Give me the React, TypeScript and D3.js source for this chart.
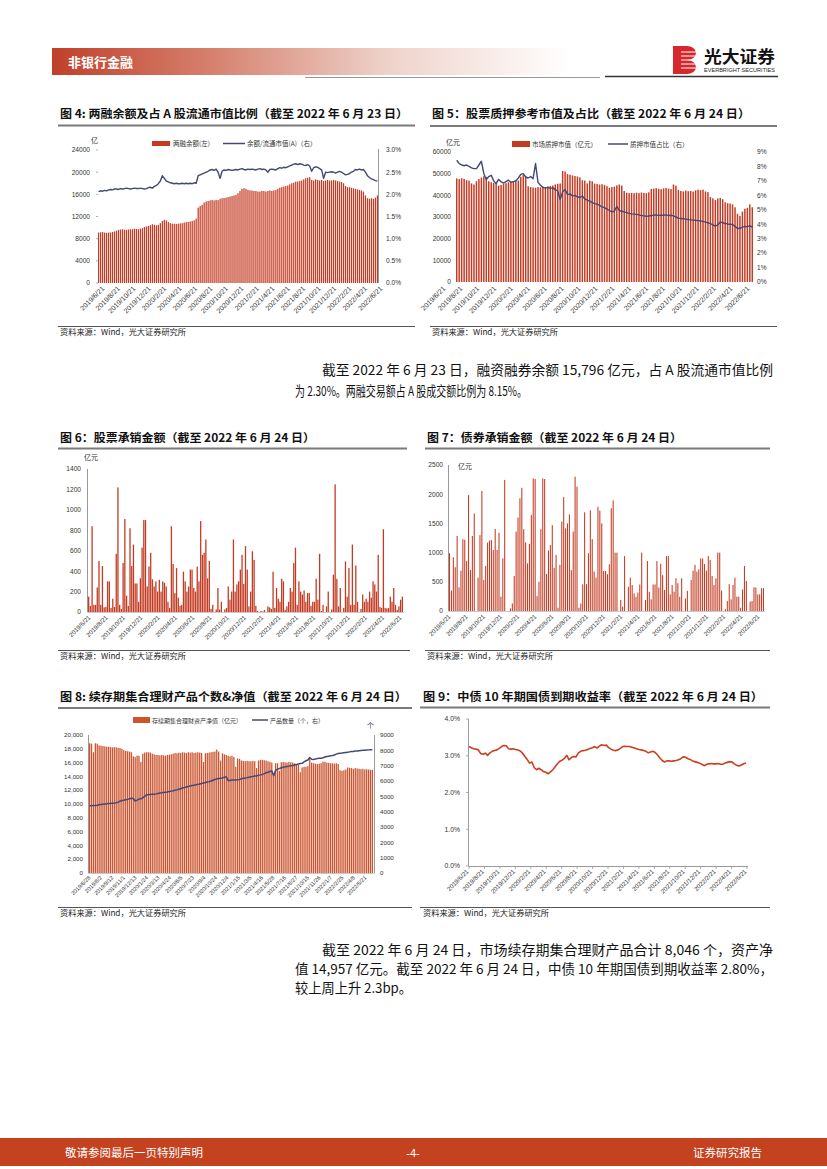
import React from 'react';
import * as d3 from 'd3';

const CJK = '"Noto Sans CJK SC", "Noto Sans", sans-serif';
const NUM = '"Liberation Sans", Arial, "Noto Sans CJK SC", sans-serif';
const RED = '#c33b22';
const RED8 = '#cb5530';
const NAVY = '#444873';
const LINE9 = '#c8401f';

// ---------- shared tick labels ----------
const monthLabels = ['2019/6/21', '2019/8/21', '2019/10/21', '2019/12/21', '2020/2/21', '2020/4/21', '2020/6/21', '2020/8/21', '2020/10/21', '2020/12/21', '2021/2/21', '2021/4/21', '2021/6/21', '2021/8/21', '2021/10/21', '2021/12/21', '2022/2/21', '2022/4/21', '2022/6/21'];
const c8Labels = ['2019/6/28', '2019/8/2', '2019/9/12', '2019/11/1', '2019/12/13', '2020/1/24', '2020/3/13', '2020/4/24', '2020/6/5', '2020/7/23', '2020/9/4', '2020/10/24', '2020/12/4', '2021/1/15', '2021/3/5', '2021/4/16', '2021/5/28', '2021/7/16', '2021/8/27', '2021/10/15', '2021/11/26', '2022/1/7', '2022/2/25', '2022/4/8', '2022/5/21'];

// ---------- Figure 4 ----------
const c4LeftTicks = [0, 4000, 8000, 12000, 16000, 20000, 24000];
const c4RightTicks = [0, 0.5, 1.0, 1.5, 2.0, 2.5, 3.0];
const c4Balance = [
  9100, 9150, 9200, 9100, 9050, 9100, 9120, 9200,
  9300, 9450, 9600, 9650, 9700, 9600,
  9600, 9650, 9700, 9700, 9800, 9750, 9700, 9800, 9900,
  10100, 10200, 10300, 10450, 10600, 10500,
  10400,
  10500, 10800, 11200, 11400, 11300, 11000,
  10800, 10700, 10700, 10650, 10700, 10750, 10800,
  10900, 11000, 11000, 11100, 11200, 11300, 11600,
  13600, 13900, 14100,
  14500, 14700, 14800, 14900, 15000, 14900, 15000, 14950,
  15200, 15300, 15350, 15400, 15500, 15600, 15700, 15800,
  15900, 16200, 16600, 17000,
  17100, 17000, 16800, 16700,
  16700, 16600, 16600, 16500, 16500, 16600, 16600, 16500, 16600, 16700, 16600, 16700, 16800, 17000, 17200, 17300, 17400, 17500,
  17600, 17800, 18000, 18100, 18300, 18300, 18400,
  18500, 18700, 18900, 19000, 19100,
  18600, 18500, 18700, 18600, 18500, 18600,
  18400, 18500, 18600, 18500, 18500, 18600, 18500, 18400, 18300, 18200, 18000, 17500,
  17300, 17300, 17200, 17100, 17000, 16900,
  16800, 16700, 16500,
  15800, 15300, 15200, 15300, 15200, 15400, 15800,
];
const c4Ratio = [
  2.06, 2.08, 2.07, 2.09, 2.08, 2.10, 2.11, 2.10, 2.12,
  2.12, 2.11, 2.13, 2.12, 2.13,
  2.14, 2.13, 2.12, 2.13, 2.14, 2.13, 2.13, 2.14, 2.13,
  2.12, 2.13, 2.15, 2.16, 2.14, 2.18,
  2.20, 2.24, 2.30, 2.42, 2.36, 2.30, 2.28,
  2.26, 2.25, 2.24, 2.25, 2.24, 2.24, 2.25,
  2.24, 2.25, 2.24, 2.25, 2.24, 2.26, 2.25,
  2.42, 2.44, 2.46,
  2.48, 2.50, 2.52, 2.55, 2.56, 2.54, 2.57, 2.50,
  2.36, 2.52, 2.55, 2.54, 2.56, 2.55, 2.54, 2.55,
  2.56, 2.55, 2.57, 2.58, 2.56, 2.55, 2.57, 2.56,
  2.57, 2.56, 2.55, 2.57, 2.58, 2.56, 2.57, 2.55, 2.50, 2.56, 2.57, 2.56, 2.55, 2.58, 2.60, 2.59, 2.61, 2.60,
  2.62, 2.64, 2.66, 2.68, 2.69, 2.67, 2.69,
  2.68, 2.66, 2.65, 2.67, 2.64,
  2.52, 2.60, 2.62, 2.61, 2.58, 2.55,
  2.36, 2.50, 2.49, 2.50, 2.51, 2.50, 2.48, 2.50, 2.52, 2.50, 2.47, 2.44,
  2.45, 2.47, 2.50, 2.52, 2.56, 2.55,
  2.57, 2.55, 2.56,
  2.50, 2.42, 2.38, 2.35, 2.33, 2.31, 2.30,
];

// ---------- Figure 5 ----------
const c5LeftTicks = [0, 10000, 20000, 30000, 40000, 50000, 60000];
const c5RightTicks = [0, 1, 2, 3, 4, 5, 6, 7, 8, 9];
const c5Value = [
  47800, 47500, 47900, 47600, 47000, 46800,
  45500, 45000,
  46500, 47500, 48200, 48800, 48500,
  46500, 46000, 45800, 46200,
  44500, 44800, 45200, 45600, 46000, 46300, 46600, 47000, 46800,
  48500, 49300, 48800,
  44200, 43800, 43600, 43500, 43800, 43700,
  44000, 43800, 44100, 44300, 44500, 45000, 45300, 45500,
  51200, 51000,
  49800, 49500, 49200, 48900,
  48700, 48300, 47000, 46800,
  45500, 46800, 46500, 45400, 45200, 45000, 45100, 44800,
  44200, 43500, 43800, 44000, 44600, 45000,
  44500, 42000,
  41200, 41000, 41100, 41000, 41200, 41000, 41300, 41100, 41000, 41400,
  43000, 43100, 43300, 43000, 42800, 43200, 43400, 43100, 42900,
  45000, 44500,
  42500, 42000, 41800, 42200, 41900, 42000, 41700, 42300, 42600, 42400,
  42600, 41800, 41500,
  39200, 38600, 37800,
  38500, 38800, 38200,
  36800, 36400, 36200, 35800,
  34500, 31500, 30500,
  32500, 33800, 34200, 35800, 34500,
];
const c5Share = [
  8.43, 8.20, 8.10, 8.05, 8.10, 8.00,
  7.90, 7.85,
  7.85, 8.10, 8.36, 7.50, 7.10,
  7.30, 7.39, 7.00, 6.81,
  7.10, 6.95, 6.85, 6.95, 7.05, 6.90, 6.95, 7.00, 7.20,
  7.45, 7.50, 7.27,
  7.20, 7.30, 7.15, 8.20, 6.90, 6.70,
  6.55, 6.50, 6.55, 6.48, 6.52, 6.40, 6.30, 5.70,
  6.25, 6.40,
  6.05, 6.10, 5.95, 6.00,
  5.90, 5.85, 5.95, 5.75,
  5.66, 5.60, 5.50, 5.43, 5.40, 5.30, 5.20, 5.15,
  5.05, 4.95, 4.85, 4.90, 5.24, 4.95,
  4.90, 4.85,
  4.80, 4.75, 4.72, 4.70, 4.68, 4.65, 4.60, 4.58, 4.55, 4.57,
  4.60, 4.62, 4.65, 4.60, 4.63, 4.62, 4.65, 4.60, 4.62,
  4.58, 4.50,
  4.42, 4.40, 4.38, 4.35, 4.32, 4.30, 4.28, 4.27, 4.25, 4.22,
  4.20, 4.15, 4.10,
  4.04, 3.95, 3.86,
  3.95, 4.16, 4.10,
  4.05, 4.02, 4.00, 3.98,
  3.85, 3.70, 3.72,
  3.80, 3.85, 3.82, 3.90, 3.80,
];

// ---------- Figure 6 ----------
const c6Ticks = [0, 200, 400, 600, 800, 1000, 1200, 1400];
const c6Equity = [
  150, 60, 840, 70, 70, 240, 500, 70, 450, 45, 50, 300, 300, 40, 130, 50, 570, 1220, 70, 30,
  480, 910, 160, 60, 820, 450, 660, 280, 280, 100, 330, 630, 900, 900, 250, 445, 580, 320, 250, 300,
  200, 315, 200, 300, 285, 250, 100, 40, 840, 470, 185, 430, 140, 60, 70, 395, 300, 200, 250, 415,
  415, 235, 200, 445, 300, 890, 560, 580, 710, 330, 500, 30, 70, 0, 25, 235, 25, 100, 0, 25,
  40, 250, 120, 200, 710, 200, 270, 300, 415, 560, 275, 645, 415, 55, 200, 595, 510, 60, 10, 0,
  10, 5, 20, 0, 55, 45, 30, 395, 40, 235, 130, 100, 325, 300, 20, 55, 100, 235, 200, 480,
  630, 70, 300, 200, 170, 210, 100, 185, 185, 60, 100, 100, 325, 120, 570, 10, 70, 0, 55, 200,
  0, 25, 365, 1250, 325, 55, 235, 0, 40, 495, 150, 430, 70, 660, 70, 455, 100, 0, 30, 170,
  100, 130, 100, 200, 140, 300, 270, 200, 560, 50, 40, 810, 40, 35, 40, 150, 100, 235, 70, 20,
  55, 120, 150,
];

// ---------- Figure 7 ----------
const c7Ticks = [0, 500, 1000, 1500, 2000, 2500];
const c7Bond = [
  990, 350, 920, 750, 1285, 405, 690, 1230, 1220, 855, 1985, 700, 1285, 1670, 0, 570, 1300, 2055, 530, 770,
  1170, 1205, 1215, 1045, 1405, 1045, 1340, 245, 900, 2245, 0, 0, 45, 130, 600, 1360, 1600, 1930, 2110, 1400,
  1175, 815, 1150, 1645, 2270, 2260, 255, 500, 1400, 2270, 2260, 635, 1035, 1130, 1470, 740, 960, 55, 790, 1530,
  1950, 1415, 1500, 1655, 700, 1360, 2300, 2130, 55, 130, 455, 1690, 460, 990, 1725, 1230, 675, 570, 1785, 1720,
  1500, 685, 685, 630, 800, 1760, 1895, 1000, 1000, 0, 190, 75, 940, 0, 415, 570, 445, 300, 240, 315,
  455, 1000, 0, 190, 855, 330, 200, 455, 455, 855, 400, 810, 615, 360, 940, 940, 285, 445, 330, 560,
  475, 245, 560, 0, 215, 345, 0, 530, 690, 790, 675, 715, 900, 900, 805, 690, 940, 875, 600, 445,
  560, 1000, 1000, 350, 0, 30, 170, 460, 200, 445, 570, 245, 245, 55, 370, 770, 515, 0, 160, 170,
  405, 400, 285, 285, 390, 390,
];

// ---------- Figure 8 ----------
const c8LeftTicks = [0, 2000, 4000, 6000, 8000, 10000, 12000, 14000, 16000, 18000, 20000];
const c8RightTicks = [0, 1000, 2000, 3000, 4000, 5000, 6000, 7000, 8000, 9000];
const c8NetValue = [
  18800, 18750,
  17500,
  18800, 18750,
  18500, 18450, 18400, 18350, 18300, 18300, 18250, 18200, 18250,
  18200, 18150, 18100, 18000,
  17800, 17700, 17650, 17600, 17500,
  16900, 16800, 17000, 17000,
  16100,
  17300, 17450, 17500, 17500, 17450, 17300, 17200,
  17100, 17100, 17050, 17100, 17050, 17000,
  17100, 17150, 17200, 17300, 17400, 17350, 17450, 17400,
  17500, 17450, 17400, 17500, 17450, 17500, 17400, 17450, 17500, 17450, 17400,
  16100,
  17350, 17400, 17450, 17500, 17550, 17600,
  17900,
  17600,
  16300, 17350,
  17200, 17100, 17000, 16900, 17000, 16800,
  15400,
  16600, 16550,
  16300, 16250, 16200, 16250, 16200, 16200, 16250, 16200,
  15200,
  16300, 16400, 16400, 16350, 16300, 16200,
  16100, 16000, 14300, 15900, 15900, 14800,
  16050, 16100, 16050, 16000, 16100, 16050, 16000, 15900,
  15800, 15700,
  14600, 15300,
  15400, 15400, 15500,
  16600, 16000,
  15900, 15850, 15800, 15850, 15900,
  16150, 16100, 16000,
  15950, 15900, 15900, 15850, 15900, 15800,
  14900, 14800, 14900, 15000,
  15300, 15250, 15200,
  15100, 15200, 15150, 15100, 15050, 15100, 15000, 15050, 15000, 14950, 14957,
];
const c8Count = [
  4380, 4390,
  4400,
  4410, 4420,
  4450, 4470, 4490, 4500, 4510, 4530, 4540, 4550, 4560,
  4580, 4620, 4680, 4730,
  4750, 4780, 4800, 4840, 4880,
  4860, 4700, 4750, 4820,
  4840,
  4900, 5000, 5100, 5110, 5120, 5130, 5140,
  5160, 5190, 5210, 5230, 5250, 5270,
  5290, 5320, 5340, 5360, 5390, 5420, 5460, 5500,
  5540, 5580, 5610, 5640, 5670, 5700, 5720, 5750, 5780, 5810, 5840,
  5870,
  5900, 5930, 5960, 6000, 6050, 6100,
  6130,
  6160,
  6180, 6200,
  6250, 6270, 6030, 6040, 6060, 6070,
  6070,
  6080, 6100,
  6150, 6180, 6200, 6220, 6250, 6270, 6290, 6320,
  6330,
  6380, 6400, 6430, 6480, 6540, 6570,
  6620, 6660, 6350, 6700, 6760, 6820,
  6860, 6890, 6920, 6950, 6970, 7000, 7010, 7040,
  7070, 7110,
  7140, 7150,
  7250, 7320, 7370,
  7530, 7420,
  7400, 7430, 7460, 7480, 7490,
  7520, 7560, 7600,
  7620, 7640, 7660, 7700, 7750, 7800,
  7810, 7820, 7840, 7860,
  7880, 7900, 7920,
  7930, 7950, 7960, 7980, 7990, 8000, 8010, 8020, 8030, 8040, 8046,
];

// ---------- Figure 9 ----------
const c9Ticks = [0, 1, 2, 3, 4];
const c9Yield = [
  3.25, 3.22, 3.19, 3.18, 3.16, 3.06, 3.04, 3.07, 3.01, 3.08,
  3.12, 3.14, 3.16, 3.20, 3.25, 3.28, 3.27, 3.19, 3.18, 3.19,
  3.17, 3.16, 3.13, 3.07, 2.98, 2.90, 2.80, 2.83, 2.68, 2.62,
  2.66, 2.62, 2.57, 2.55, 2.51, 2.56, 2.62, 2.70, 2.78, 2.85,
  2.88, 2.93, 3.01, 2.89, 2.95, 2.98, 2.97, 3.08, 3.12, 3.14,
  3.15, 3.17, 3.20, 3.22, 3.25, 3.21, 3.26, 3.30, 3.28, 3.29,
  3.22, 3.18, 3.15, 3.14, 3.16, 3.20, 3.25, 3.26, 3.25, 3.25,
  3.23, 3.21, 3.19, 3.17, 3.16, 3.14, 3.12, 3.08, 3.10, 3.12,
  3.09, 3.02, 2.94, 2.87, 2.83, 2.86, 2.86, 2.85, 2.86, 2.87,
  2.89, 2.92, 2.97, 2.96, 2.92, 2.90, 2.86, 2.84, 2.82, 2.80,
  2.77, 2.73, 2.76, 2.78, 2.79, 2.78, 2.78, 2.79, 2.77, 2.77,
  2.80, 2.82, 2.84, 2.83, 2.78, 2.74, 2.72, 2.75, 2.78, 2.80,
];

// ---------- helpers ----------
type Lin = d3.ScaleLinear<number, number>;

function YLabels({ scale, ticks, x, anchor, fmt, fs = 6.6, color = '#333' }: { scale: Lin; ticks: number[]; x: number; anchor: 'start' | 'end'; fmt: (v: number) => string; fs?: number; color?: string }) {
  return (
    <g>
      {ticks.map((t) => (
        <text key={t} x={x} y={scale(t) + fs * 0.36} textAnchor={anchor} fontSize={fs} fontFamily={NUM} fill={color}>
          {fmt(t)}
        </text>
      ))}
    </g>
  );
}

function XLabels({ labels, range, y, fs = 6.2 }: { labels: string[]; range: [number, number]; y: number; fs?: number }) {
  const sp = d3.scalePoint<string>().domain(labels).range(range);
  return (
    <g>
      {labels.map((l) => (
        <text key={l} transform={`translate(${sp(l)},${y}) rotate(-45)`} textAnchor="end" fontSize={fs} fontFamily={NUM} fill="#333">
          {l}
        </text>
      ))}
    </g>
  );
}

function Bars({ values, band, y, color }: { values: number[]; band: d3.ScaleBand<number>; y: Lin; color: string }) {
  return (
    <g>
      {values.map((v, i) => (
        <rect key={i} x={band(i)} y={y(v)} width={band.bandwidth()} height={Math.max(0, y(0) - y(v))} fill={color} />
      ))}
    </g>
  );
}

function LinePath({ values, xf, y, color, width = 1.3 }: { values: number[]; xf: (i: number) => number; y: Lin; color: string; width?: number }) {
  const gen = d3.line<number>().x((_, i) => xf(i)).y((v) => y(v));
  return <path d={gen(values) || ''} fill="none" stroke={color} strokeWidth={width} strokeLinejoin="round" />;
}

function Title({ x, y, w, text, lx0, lx1, ly }: { x: number; y: number; w: number; text: string; lx0: number; lx1: number; ly: number }) {
  return (
    <g>
      <text x={x} y={y} fontSize={11.5} fontWeight={700} fontFamily={CJK} fill="#111" textLength={w} lengthAdjust="spacingAndGlyphs">
        {text}
      </text>
      <line x1={lx0} x2={lx1} y1={ly} y2={ly} stroke="#7a7a7a" strokeWidth={1.8} />
    </g>
  );
}

function Source({ x, y, lx0, lx1, ly }: { x: number; y: number; lx0: number; lx1: number; ly: number }) {
  return (
    <g>
      <line x1={lx0} x2={lx1} y1={ly} y2={ly} stroke="#555" strokeWidth={1} />
      <text x={x} y={y} fontSize={8.2} fontFamily={CJK} fill="#222">
        资料来源：Wind，光大证券研究所
      </text>
    </g>
  );
}

const pct1 = (v: number) => v.toFixed(1) + '%';
const plain = (v: number) => String(v);
const comma = d3.format(',');

export default function App() {
  // ---- Fig 4 scales
  const c4x = d3.scaleBand<number>().domain(d3.range(c4Balance.length)).range([98, 378]).paddingInner(0.38);
  const c4yL = d3.scaleLinear().domain([0, 24000]).range([283, 150]);
  const c4yR = d3.scaleLinear().domain([0, 3]).range([283, 150]);
  const c4xf = (i: number) => (c4x(i) as number) + c4x.bandwidth() / 2;

  // ---- Fig 5 scales
  const c5x = d3.scaleBand<number>().domain(d3.range(c5Value.length)).range([456, 753]).paddingInner(0.4);
  const c5yL = d3.scaleLinear().domain([0, 60000]).range([282, 152]);
  const c5yR = d3.scaleLinear().domain([0, 9]).range([282, 152]);
  const c5xf = (i: number) => (c5x(i) as number) + c5x.bandwidth() / 2;

  // ---- Fig 6
  const c6x = d3.scaleBand<number>().domain(d3.range(c6Equity.length)).range([88, 403]).paddingInner(0.25);
  const c6y = d3.scaleLinear().domain([0, 1400]).range([612, 469]);

  // ---- Fig 7
  const c7x = d3.scaleBand<number>().domain(d3.range(c7Bond.length)).range([449, 764]).paddingInner(0.45);
  const c7y = d3.scaleLinear().domain([0, 2500]).range([611, 465]);

  // ---- Fig 8
  const c8x = d3.scaleBand<number>().domain(d3.range(c8NetValue.length)).range([89, 373]).paddingInner(0.32);
  const c8yL = d3.scaleLinear().domain([0, 20000]).range([873, 735]);
  const c8yR = d3.scaleLinear().domain([0, 9000]).range([873, 735]);
  const c8xf = (i: number) => (c8x(i) as number) + c8x.bandwidth() / 2;

  // ---- Fig 9
  const c9x = d3.scaleLinear().domain([0, c9Yield.length - 1]).range([469, 746]);
  const c9y = d3.scaleLinear().domain([0, 4]).range([866, 719]);
  const c9tick = d3.scalePoint<string>().domain(monthLabels).range([469, 747]);

  return (
    <svg width={827} height={1169} viewBox="0 0 827 1169" style={{ position: 'absolute', left: 0, top: 0, background: '#fff' }}>
      <defs>
        <linearGradient id="hdr" x1="0" x2="1" y1="0" y2="0">
          <stop offset="0" stopColor="#c0402a" />
          <stop offset="0.3" stopColor="#d57f6c" />
          <stop offset="0.65" stopColor="#efd3cb" />
          <stop offset="1" stopColor="#ffffff" />
        </linearGradient>
      </defs>
      <rect x={0} y={0} width={827} height={1169} fill="#fff" />

      {/* Header */}
      <rect x={52} y={48} width={520} height={27} fill="url(#hdr)" />
      <text x={68} y={66.5} fontSize={13} fontWeight={700} fontFamily={CJK} fill="#fff">非银行金融</text>
      <line x1={305} x2={600} y1={77.5} y2={77.5} stroke="#999" strokeWidth={1} />
      <line x1={605} x2={778} y1={76.5} y2={76.5} stroke="#333" strokeWidth={1.3} />
      <g>
        <path d="M673,46 h14 a9,7 0 0 1 0,14 a9,7 0 0 1 0,14 h-14 z" fill="#d8262d" />
        {[52, 56, 60, 64, 68].map((yy) => (
          <line key={yy} x1={681} x2={696} y1={yy} y2={yy} stroke="#fff" strokeWidth={1} />
        ))}
      </g>
      <text x={704} y={63} fontSize={16.5} fontWeight={700} fontFamily={CJK} fill="#111" textLength={71} lengthAdjust="spacingAndGlyphs">光大证券</text>
      <text x={704} y={71.5} fontSize={5.2} fontFamily={NUM} fill="#222" textLength={71} lengthAdjust="spacingAndGlyphs">EVERBRIGHT SECURITIES</text>

      {/* ===== Figure 4 ===== */}
      <Title x={60} y={118} w={348} text="图  4: 两融余额及占 A 股流通市值比例（截至 2022 年 6 月 23 日）" lx0={58} lx1={415} ly={125.5} />
      <text x={91} y={143} fontSize={7} fontFamily={CJK} fill="#333">亿</text>
      <rect x={152} y={141} width={18} height={5} fill={RED} />
      <text x={173} y={146} fontSize={6.5} fontFamily={CJK} fill="#333">两融余额(左)</text>
      <line x1={223} x2={245} y1={143.5} y2={143.5} stroke={NAVY} strokeWidth={1.5} />
      <text x={247} y={146} fontSize={6.5} fontFamily={CJK} fill="#333">余额/流通市值(A)（右）</text>
      <Bars values={c4Balance} band={c4x} y={c4yL} color={RED} />
      <LinePath values={c4Ratio} xf={c4xf} y={c4yR} color={NAVY} width={1.4} />
      <line x1={378.5} x2={378.5} y1={149} y2={283} stroke="#999" strokeWidth={1} />
      {c4LeftTicks.map((t) => (
        <line key={t} x1={96} x2={98} y1={c4yL(t)} y2={c4yL(t)} stroke="#999" strokeWidth={0.8} />
      ))}
      <YLabels scale={c4yL} ticks={c4LeftTicks} x={90} anchor="end" fmt={plain} />
      <YLabels scale={c4yR} ticks={c4RightTicks} x={386} anchor="start" fmt={pct1} />
      <XLabels labels={monthLabels} range={[105, 383]} y={289} fs={7} />
      <Source x={60} y={335} lx0={58} lx1={415} ly={326.5} />

      {/* ===== Figure 5 ===== */}
      <Title x={432} y={118} w={318} text="图 5：股票质押参考市值及占比（截至 2022 年 6 月 24 日）" lx0={430} lx1={777} ly={126} />
      <text x={446} y={145} fontSize={7} fontFamily={CJK} fill="#333">亿元</text>
      <rect x={512} y={141} width={18} height={6} fill={RED} />
      <text x={532} y={147} fontSize={6.5} fontFamily={CJK} fill="#333">市场质押市值（亿元）</text>
      <line x1={608} x2={628} y1={144} y2={144} stroke={NAVY} strokeWidth={1.5} />
      <text x={630} y={147} fontSize={6.5} fontFamily={CJK} fill="#333">质押市值占比（右）</text>
      <Bars values={c5Value} band={c5x} y={c5yL} color={RED} />
      <LinePath values={c5Share} xf={c5xf} y={c5yR} color={NAVY} width={1.4} />
      <YLabels scale={c5yL} ticks={c5LeftTicks} x={451} anchor="end" fmt={plain} />
      <YLabels scale={c5yR} ticks={c5RightTicks} x={757} anchor="start" fmt={(v) => v + '%'} />
      <XLabels labels={monthLabels} range={[446, 750]} y={289} fs={7} />
      <Source x={432} y={335} lx0={430} lx1={777} ly={326.5} />

      {/* Paragraph 1 */}
      <text x={322} y={375} fontSize={13.2} fontFamily={CJK} fill="#111" textLength={451} lengthAdjust="spacingAndGlyphs">截至 2022 年 6 月 23 日，融资融券余额 15,796 亿元，占 A 股流通市值比例</text>
      <text x={295} y={396} fontSize={13.2} fontFamily={CJK} fill="#111" textLength={232} lengthAdjust="spacingAndGlyphs">为 2.30%。两融交易额占 A 股成交额比例为 8.15%。</text>

      {/* ===== Figure 6 ===== */}
      <Title x={60} y={442} w={255} text="图 6：股票承销金额（截至 2022 年 6 月 24 日）" lx0={58} lx1={407} ly={448.5} />
      <text x={84} y={460} fontSize={7} fontFamily={CJK} fill="#333">亿元</text>
      <Bars values={c6Equity} band={c6x} y={c6y} color={RED} />
      <line x1={87.5} x2={87.5} y1={469} y2={612} stroke="#999" strokeWidth={1} />
      <line x1={87.5} x2={404} y1={612.5} y2={612.5} stroke="#bbb" strokeWidth={0.8} />
      <YLabels scale={c6y} ticks={c6Ticks} x={81} anchor="end" fmt={plain} />
      <XLabels labels={monthLabels} range={[91, 402]} y={618} />
      <Source x={60} y={659} lx0={58} lx1={410} ly={650.5} />

      {/* ===== Figure 7 ===== */}
      <Title x={427} y={442} w={255} text="图 7：债券承销金额（截至 2022 年 6 月 24 日）" lx0={425} lx1={770} ly={448.5} />
      <text x={458} y={469} fontSize={7} fontFamily={CJK} fill="#333">亿元</text>
      <Bars values={c7Bond} band={c7x} y={c7y} color={RED} />
      <line x1={448.5} x2={448.5} y1={465} y2={611} stroke="#999" strokeWidth={1} />
      <line x1={448.5} x2={765} y1={611.5} y2={611.5} stroke="#bbb" strokeWidth={0.8} />
      <YLabels scale={c7y} ticks={c7Ticks} x={443} anchor="end" fmt={plain} />
      <XLabels labels={monthLabels} range={[451, 760]} y={617} />
      <Source x={427} y={659} lx0={425} lx1={770} ly={650.5} />

      {/* ===== Figure 8 ===== */}
      <Title x={60} y={701} w={347} text="图 8: 续存期集合理财产品个数&净值（截至 2022 年 6 月 24 日）" lx0={58} lx1={412} ly={708} />
      <rect x={133} y={717} width={17} height={6} fill={RED8} />
      <text x={152} y={723} fontSize={6} fontFamily={CJK} fill="#333">存续期集合理财资产净值（亿元）</text>
      <line x1={252} x2={268} y1={720} y2={720} stroke={NAVY} strokeWidth={1.5} />
      <text x={270} y={723} fontSize={6} fontFamily={CJK} fill="#333">产品数量（个，右）</text>
      <text x={367} y={728} fontSize={7} fontFamily={CJK} fill="#333">个</text>
      <Bars values={c8NetValue} band={c8x} y={c8yL} color={RED8} />
      <LinePath values={c8Count} xf={c8xf} y={c8yR} color={NAVY} width={1.5} />
      <line x1={88.5} x2={88.5} y1={735} y2={873} stroke="#999" strokeWidth={1} />
      <line x1={374.5} x2={374.5} y1={735} y2={873} stroke="#999" strokeWidth={1} />
      <line x1={88.5} x2={374.5} y1={873.5} y2={873.5} stroke="#bbb" strokeWidth={0.8} />
      <YLabels scale={c8yL} ticks={c8LeftTicks} x={83} anchor="end" fmt={comma} fs={6.2} />
      <YLabels scale={c8yR} ticks={c8RightTicks} x={380} anchor="start" fmt={plain} fs={6.2} />
      <XLabels labels={c8Labels} range={[91, 367]} y={878} fs={5.6} />
      <Source x={60} y={916} lx0={58} lx1={412} ly={907.5} />

      {/* ===== Figure 9 ===== */}
      <Title x={423} y={701} w={340} text="图 9：中债 10 年期国债到期收益率（截至 2022 年 6 月 24 日）" lx0={420} lx1={770} ly={707.5} />
      <line x1={468.5} x2={468.5} y1={719} y2={866} stroke="#999" strokeWidth={1} />
      <line x1={468.5} x2={748} y1={866.5} y2={866.5} stroke="#999" strokeWidth={1} />
      {c9Ticks.map((t) => (
        <line key={t} x1={466} x2={468.5} y1={c9y(t)} y2={c9y(t)} stroke="#999" strokeWidth={0.8} />
      ))}
      {monthLabels.map((l) => (
        <line key={l} x1={c9tick(l)} x2={c9tick(l)} y1={866.5} y2={869} stroke="#999" strokeWidth={0.8} />
      ))}
      <LinePath values={c9Yield} xf={(i) => c9x(i)} y={c9y} color={LINE9} width={1.6} />
      <YLabels scale={c9y} ticks={c9Ticks} x={460} anchor="end" fmt={pct1} fs={6.8} />
      <XLabels labels={monthLabels} range={[469, 747]} y={872} />
      <Source x={423} y={916} lx0={420} lx1={770} ly={907.5} />

      {/* Paragraph 2 */}
      <text x={322} y={955} fontSize={13.2} fontFamily={CJK} fill="#111" textLength={451} lengthAdjust="spacingAndGlyphs">截至 2022 年 6 月 24 日，市场续存期集合理财产品合计 8,046 个，资产净</text>
      <text x={295} y={974} fontSize={13.2} fontFamily={CJK} fill="#111" textLength={478} lengthAdjust="spacingAndGlyphs">值 14,957 亿元。截至 2022 年 6 月 24 日，中债 10 年期国债到期收益率 2.80%，</text>
      <text x={295} y={993} fontSize={13.2} fontFamily={CJK} fill="#111" textLength={117} lengthAdjust="spacingAndGlyphs">较上周上升 2.3bp。</text>

      {/* Footer */}
      <rect x={0} y={1138} width={827} height={28} fill="#c4421f" />
      <text x={65} y={1156.5} fontSize={11.5} fontFamily={CJK} fill="#fff">敬请参阅最后一页特别声明</text>
      <text x={413} y={1156.5} fontSize={11} fontFamily={NUM} fill="#fff" textAnchor="middle">-4-</text>
      <text x={762} y={1156.5} fontSize={11.5} fontFamily={CJK} fill="#fff" textAnchor="end">证券研究报告</text>
    </svg>
  );
}
